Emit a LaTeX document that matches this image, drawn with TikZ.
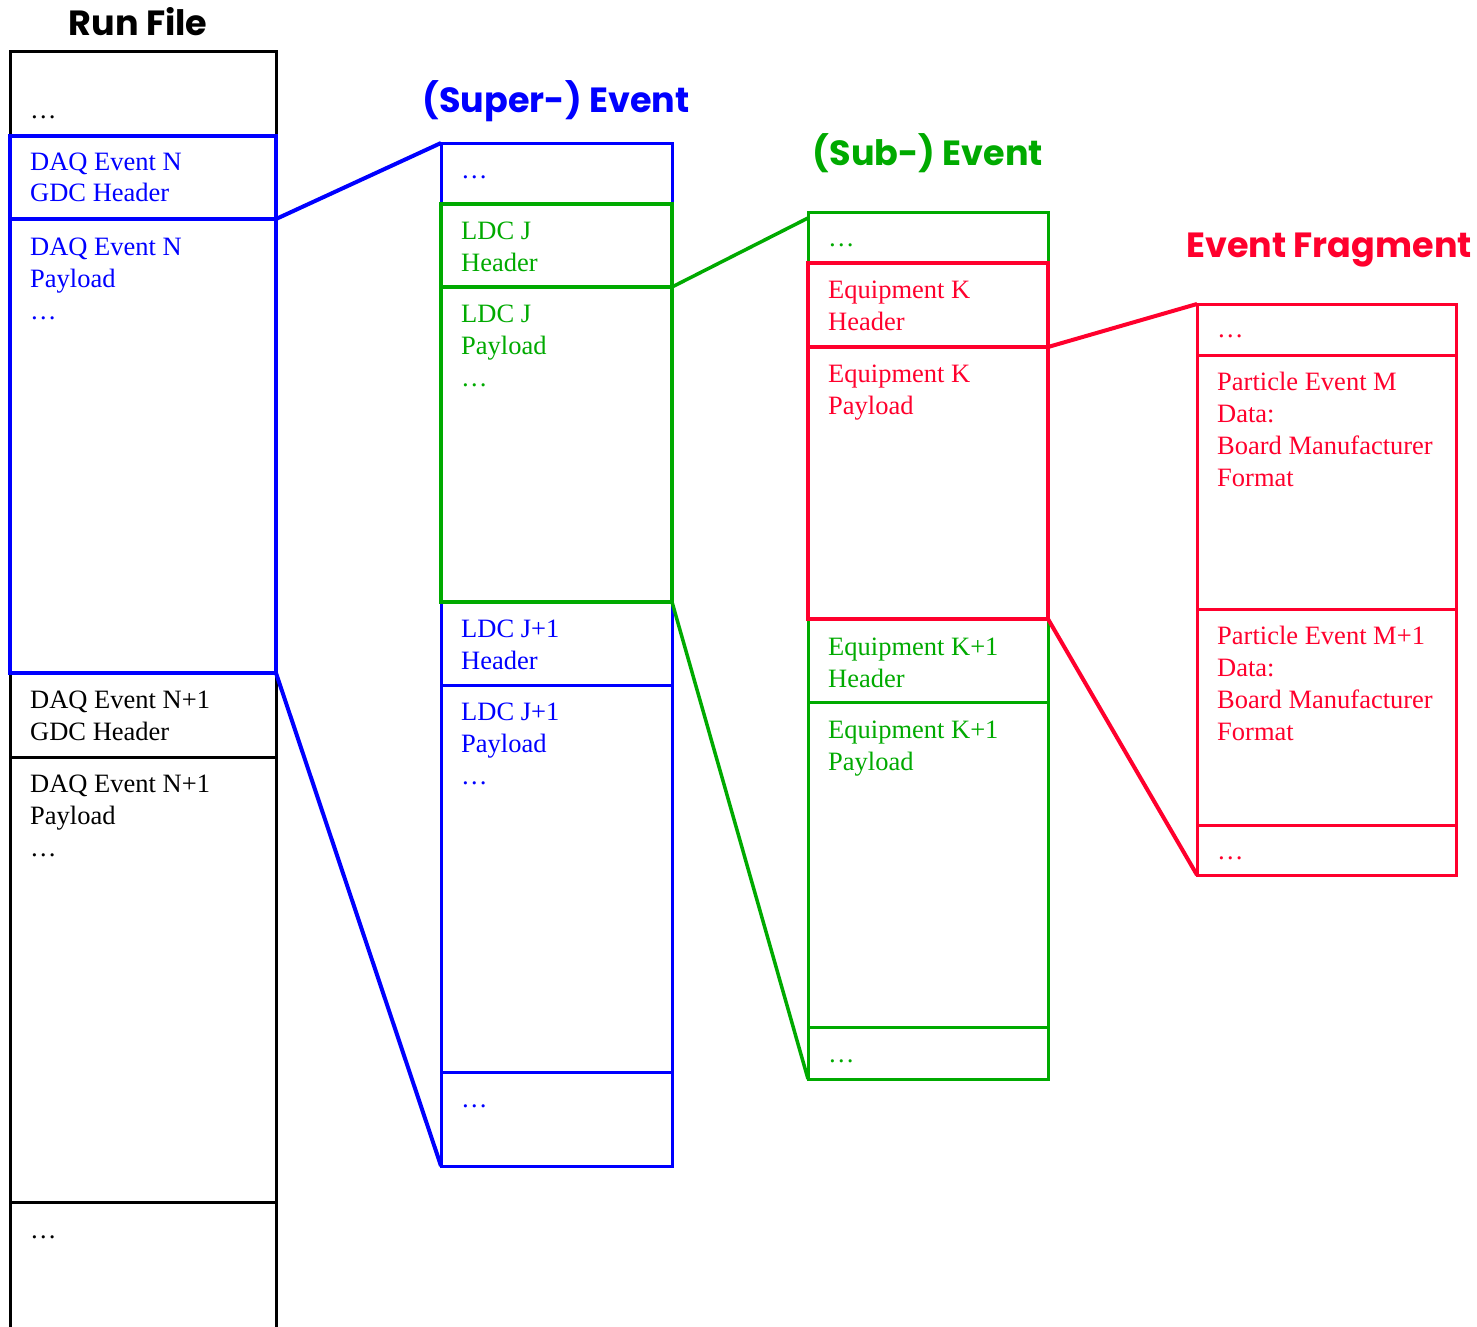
\documentclass[tikz,border=0pt]{standalone}
\usepackage{fontspec}
\setmainfont{Liberation Serif}
\newfontfamily\titlefont{Poppins}
\usetikzlibrary{calc}
\definecolor{cblue}{RGB}{0,0,255}
\definecolor{cgreen}{RGB}{0,170,0}
\definecolor{cred}{RGB}{255,0,45}
\newcommand\celltext[1]{\begin{tabular}[t]{@{}l@{}}#1\end{tabular}}
\begin{document}
\begin{tikzpicture}[x=1pt,y=-1pt,
  cell/.style={draw, rectangle, inner sep=0pt, outer sep=0pt, anchor=north west},
  thinln/.style={line width=3pt},
  thickln/.style={line width=4.6pt},
  conn/.style={line width=4pt},
  txt/.style={anchor=base west, inner sep=0pt, font=\fontsize{26.5}{32}\selectfont},
  title/.style={anchor=base, inner sep=0pt, font=\titlefont\bfseries\fontsize{35}{40}\selectfont}
]
\useasboundingbox (0,0) rectangle (1477,1327);
\fill[white] (0,0) rectangle (1477,1327);

% ---------- Titles
\node[title, text=black] (tRun) at (138,36) {Run File};
\node[title, text=cblue] (tSuper) at (556,113) {(Super-) Event};
\node[title, text=cgreen] (tSub) at (928,165) {(Sub-) Event};
\node[title, text=cred] (tFrag) at (1329,257) {Event Fragment};

% ---------- Run file column (x 10..276)
\node[cell, thinln, draw=black, minimum width=266pt, minimum height=84pt] (rf0) at (10,52) {};
\node[cell, thinln, draw=black, minimum width=266pt, minimum height=84pt] (rf3) at (10,673) {};
\node[cell, thinln, draw=black, minimum width=266pt, minimum height=445pt] (rf4) at (10,757) {};
\node[cell, thinln, draw=black, minimum width=266pt, minimum height=150pt] (rf5) at (10,1202) {};
\node[cell, thickln, draw=cblue, minimum width=266pt, minimum height=83pt] (rf1) at (10,136) {};
\node[cell, thickln, draw=cblue, minimum width=266pt, minimum height=454pt] (rf2) at (10,219) {};

\node[txt, text=black] (xrf0) at ($(rf0.north west)+(20,67)$) {\ldots};
\node[txt, text=cblue] (xrf1) at ($(rf1.north west)+(20,34)$) {\celltext{DAQ Event N\\GDC Header}};
\node[txt, text=cblue] (xrf2) at ($(rf2.north west)+(20,36)$) {\celltext{DAQ Event N\\Payload\\\ldots}};
\node[txt, text=black] (xrf3) at ($(rf3.north west)+(20,35)$) {\celltext{DAQ Event N+1\\GDC Header}};
\node[txt, text=black] (xrf4) at ($(rf4.north west)+(20,35)$) {\celltext{DAQ Event N+1\\Payload\\\ldots}};
\node[txt, text=black] (xrf5) at ($(rf5.north west)+(20,36)$) {\ldots};

% ---------- (Super-) Event column (x 441..672)
\node[cell, thinln, draw=cblue, minimum width=231pt, minimum height=61pt] (se0) at (441,143) {};
\node[cell, thinln, draw=cblue, minimum width=231pt, minimum height=83pt] (se3) at (441,602) {};
\node[cell, thinln, draw=cblue, minimum width=231pt, minimum height=387pt] (se4) at (441,685) {};
\node[cell, thinln, draw=cblue, minimum width=231pt, minimum height=94pt] (se5) at (441,1072) {};
\node[cell, thickln, draw=cgreen, minimum width=231pt, minimum height=83pt] (se1) at (441,204) {};
\node[cell, thickln, draw=cgreen, minimum width=231pt, minimum height=315pt] (se2) at (441,287) {};

\node[txt, text=cblue] (xse0) at ($(se0.north west)+(20,35)$) {\ldots};
\node[txt, text=cgreen] (xse1) at ($(se1.north west)+(20,35)$) {\celltext{LDC J\\Header}};
\node[txt, text=cgreen] (xse2) at ($(se2.north west)+(20,35)$) {\celltext{LDC J\\Payload\\\ldots}};
\node[txt, text=cblue] (xse3) at ($(se3.north west)+(20,35)$) {\celltext{LDC J+1\\Header}};
\node[txt, text=cblue] (xse4) at ($(se4.north west)+(20,35)$) {\celltext{LDC J+1\\Payload\\\ldots}};
\node[txt, text=cblue] (xse5) at ($(se5.north west)+(20,35)$) {\ldots};

% ---------- (Sub-) Event column (x 808..1048)
\node[cell, thinln, draw=cgreen, minimum width=240pt, minimum height=51pt] (sb0) at (808,212) {};
\node[cell, thinln, draw=cgreen, minimum width=240pt, minimum height=83pt] (sb3) at (808,619) {};
\node[cell, thinln, draw=cgreen, minimum width=240pt, minimum height=325pt] (sb4) at (808,702) {};
\node[cell, thinln, draw=cgreen, minimum width=240pt, minimum height=52pt] (sb5) at (808,1027) {};
\node[cell, thickln, draw=cred, minimum width=240pt, minimum height=84pt] (sb1) at (808,263) {};
\node[cell, thickln, draw=cred, minimum width=240pt, minimum height=272pt] (sb2) at (808,347) {};

\node[txt, text=cgreen] (xsb0) at ($(sb0.north west)+(20,34)$) {\ldots};
\node[txt, text=cred] (xsb1) at ($(sb1.north west)+(20,35)$) {\celltext{Equipment K\\Header}};
\node[txt, text=cred] (xsb2) at ($(sb2.north west)+(20,35)$) {\celltext{Equipment K\\Payload}};
\node[txt, text=cgreen] (xsb3) at ($(sb3.north west)+(20,36)$) {\celltext{Equipment K+1\\Header}};
\node[txt, text=cgreen] (xsb4) at ($(sb4.north west)+(20,36)$) {\celltext{Equipment K+1\\Payload}};
\node[txt, text=cgreen] (xsb5) at ($(sb5.north west)+(20,35)$) {\ldots};

% ---------- Event Fragment column (x 1197..1456)
\node[cell, thinln, draw=cred, minimum width=259pt, minimum height=51pt] (fr0) at (1197,304) {};
\node[cell, thinln, draw=cred, minimum width=259pt, minimum height=254pt] (fr1) at (1197,355) {};
\node[cell, thinln, draw=cred, minimum width=259pt, minimum height=216pt] (fr2) at (1197,609) {};
\node[cell, thinln, draw=cred, minimum width=259pt, minimum height=50pt] (fr3) at (1197,825) {};

\node[txt, text=cred] (xfr0) at ($(fr0.north west)+(20,33)$) {\ldots};
\node[txt, text=cred] (xfr1) at ($(fr1.north west)+(20,35)$) {\celltext{Particle Event M\\Data:\\Board Manufacturer\\Format}};
\node[txt, text=cred] (xfr2) at ($(fr2.north west)+(20,35)$) {\celltext{Particle Event M+1\\Data:\\Board Manufacturer\\Format}};
\node[txt, text=cred] (xfr3) at ($(fr3.north west)+(20,34)$) {\ldots};

% ---------- Connectors
\draw[conn, cblue] (rf1.south east) -- (se0.north west);
\draw[conn, cblue] (rf2.south east) -- (se5.south west);
\draw[conn, cgreen, line width=3.5pt] (se1.south east) -- ($(sb0.north west)+(0,6)$);
\draw[conn, cgreen, line width=3.5pt] (se2.south east) -- (sb5.south west);
\draw[conn, cred] (sb1.south east) -- (fr0.north west);
\draw[conn, cred] (sb2.south east) -- (fr3.south west);
\end{tikzpicture}
\end{document}
